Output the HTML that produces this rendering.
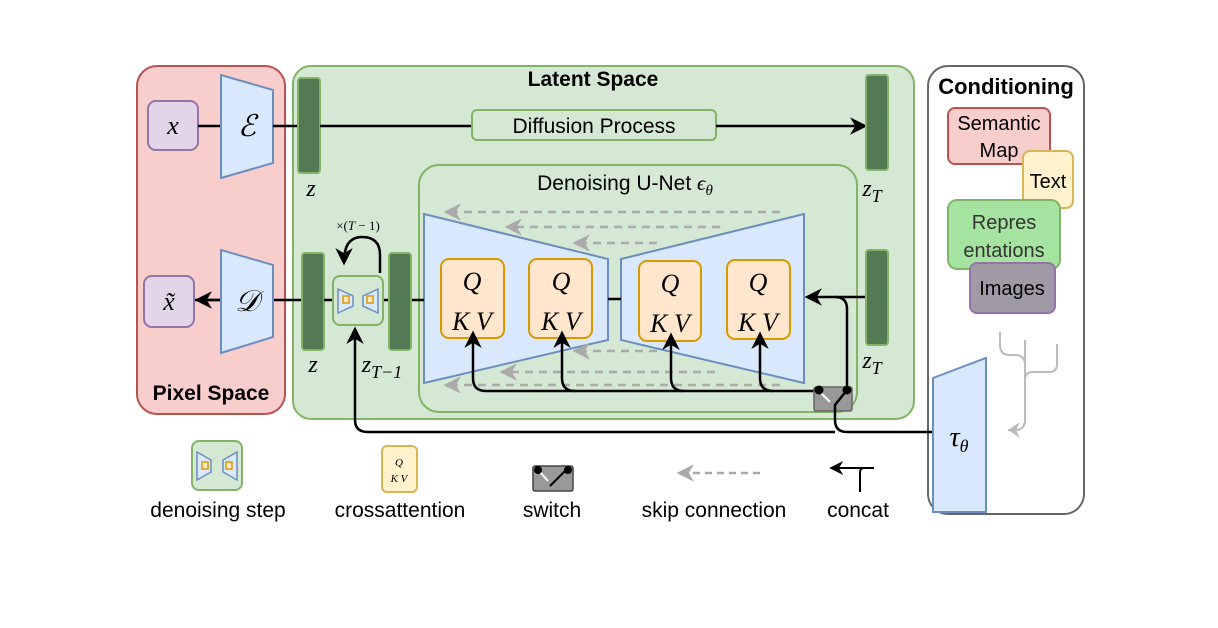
<!DOCTYPE html>
<html><head><meta charset="utf-8"><style>
html,body{margin:0;padding:0;background:#fff;}
svg{display:block;}
text{font-family:"Liberation Sans",sans-serif;}
text.m{font-family:"Liberation Serif",serif;font-style:italic;}
</style></head><body>
<svg width="1218" height="628" viewBox="0 0 1218 628" xmlns="http://www.w3.org/2000/svg">
<defs>
<marker id="ah" viewBox="0 0 10 10" refX="8" refY="5" markerWidth="7" markerHeight="7" orient="auto-start-reverse"><path d="M0,0 L10,5 L0,10 L3,5 z" fill="#000"/></marker>
<marker id="ag" viewBox="0 0 10 10" refX="8" refY="5" markerWidth="7" markerHeight="7" orient="auto"><path d="M0,0 L10,5 L0,10 L3,5 z" fill="#aaa"/></marker>
</defs>
<rect x="137" y="66" width="148" height="348" rx="20" fill="#f8cecc" stroke="#b85450" stroke-width="2"/>
<text x="211" y="400" font-size="21" font-weight="bold" text-anchor="middle">Pixel Space</text>
<rect x="293" y="66" width="621" height="353" rx="18" fill="#d5e8d4" stroke="#82b366" stroke-width="2"/>
<text x="593" y="86" font-size="21" font-weight="bold" text-anchor="middle">Latent Space</text>
<rect x="928" y="66" width="156" height="448" rx="20" fill="#fff" stroke="#666" stroke-width="2"/>
<text x="1006" y="94" font-size="22" font-weight="bold" text-anchor="middle">Conditioning</text>

<rect x="148" y="101" width="50" height="49" rx="8" fill="#e1d5e7" stroke="#9673a6" stroke-width="2"/>
<text x="173" y="134" class="m" font-size="26" text-anchor="middle">x</text>
<line x1="198" y1="126" x2="221" y2="126" stroke="#000" stroke-width="2.5"/>
<polygon points="221,75 273,90 273,163 221,178" fill="#dae8fc" stroke="#6c8ebf" stroke-width="2"/>
<text x="247" y="136" class="m" font-size="30" text-anchor="middle">ℰ</text>
<line x1="273" y1="126" x2="298" y2="126" stroke="#000" stroke-width="2.5"/>
<rect x="298" y="78" width="22" height="95" rx="3" fill="#537a53" stroke="#82b366" stroke-width="2"/>
<text x="311" y="196" class="m" font-size="24" text-anchor="middle">z</text>
<line x1="320" y1="126" x2="472" y2="126" stroke="#000" stroke-width="2.5"/>
<rect x="472" y="110" width="244" height="30" rx="5" fill="#d5e8d4" stroke="#82b366" stroke-width="2"/>
<text x="594" y="133" font-size="21" text-anchor="middle">Diffusion Process</text>
<line x1="716" y1="126" x2="864" y2="126" stroke="#000" stroke-width="2.5" marker-end="url(#ah)"/>
<rect x="866" y="75" width="22" height="95" rx="3" fill="#537a53" stroke="#82b366" stroke-width="2"/>
<text x="872" y="196" class="m" font-size="24" text-anchor="middle">z<tspan font-size="18" dy="6">T</tspan></text>

<rect x="419" y="165" width="438" height="247" rx="20" fill="#d5e8d4" stroke="#82b366" stroke-width="2"/>
<text x="625" y="190" font-size="21" text-anchor="middle">Denoising U-Net <tspan font-family="Liberation Serif,serif" font-style="italic">ϵ</tspan><tspan font-family="Liberation Serif,serif" font-style="italic" font-size="15" dy="5">θ</tspan></text>
<g stroke="#aaa" stroke-width="2.5" stroke-dasharray="8,6" fill="none">
<line x1="780" y1="212" x2="447" y2="212" marker-end="url(#ag)"/>
<line x1="720" y1="227" x2="508" y2="227" marker-end="url(#ag)"/>
<line x1="657" y1="243" x2="576" y2="243" marker-end="url(#ag)"/>
</g>
<polygon points="424,214 608,259 608,340 424,383" fill="#dae8fc" stroke="#6c8ebf" stroke-width="2"/>
<polygon points="621,259 804,214 804,383 621,340" fill="#dae8fc" stroke="#6c8ebf" stroke-width="2"/>
<g stroke="#aaa" stroke-width="2.5" stroke-dasharray="8,6" fill="none">
<line x1="657" y1="351" x2="576" y2="351" marker-end="url(#ag)"/>
<line x1="715" y1="372" x2="503" y2="372" marker-end="url(#ag)"/>
<line x1="780" y1="385" x2="447" y2="385" marker-end="url(#ag)"/>
</g>
<line x1="608" y1="299" x2="621" y2="299" stroke="#000" stroke-width="2.5"/>
<g fill="#ffe6cc" stroke="#d79b00" stroke-width="2">
<rect x="441" y="259" width="63" height="79" rx="8"/>
<rect x="529" y="259" width="63" height="79" rx="8"/>
<rect x="639" y="261" width="62" height="80" rx="8"/>
<rect x="727" y="260" width="63" height="79" rx="8"/>
</g>
<text x="472" y="290" class="m" font-size="26" text-anchor="middle">Q</text><text x="472" y="330" class="m" font-size="26" text-anchor="middle">K V</text>
<text x="561" y="290" class="m" font-size="26" text-anchor="middle">Q</text><text x="561" y="330" class="m" font-size="26" text-anchor="middle">K V</text>
<text x="670" y="292" class="m" font-size="26" text-anchor="middle">Q</text><text x="670" y="332" class="m" font-size="26" text-anchor="middle">K V</text>
<text x="758" y="291" class="m" font-size="26" text-anchor="middle">Q</text><text x="758" y="331" class="m" font-size="26" text-anchor="middle">K V</text>
<g stroke="#000" stroke-width="2.5" fill="none">
<path d="M818,391 L486,391 Q473,391 473,378 L473,334" marker-end="url(#ah)"/>
<path d="M575,391 Q562,391 562,378 L562,334" marker-end="url(#ah)"/>
<path d="M684,391 Q671,391 671,378 L671,336" marker-end="url(#ah)"/>
<path d="M773,391 Q760,391 760,378 L760,335" marker-end="url(#ah)"/>
<path d="M847,389 L847,309 Q847,297 835,297 L808,297" marker-end="url(#ah)"/>
<line x1="866" y1="297" x2="835" y2="297"/>
</g>
<rect x="814" y="387" width="38" height="24" rx="2" fill="#999" stroke="#666" stroke-width="1.5"/>
<line x1="820" y1="392" x2="830" y2="402" stroke="#fff" stroke-width="2"/>
<circle cx="819" cy="390" r="4.5" fill="#000"/><circle cx="847" cy="390" r="4.5" fill="#000"/>
<path d="M847,390 L835,405 L835,420 Q835,432 847,432 L933,432" stroke="#000" stroke-width="2.5" fill="none"/>
<path d="M835,432 L368,432 Q355,432 355,420 L355,330" stroke="#000" stroke-width="2.5" fill="none" marker-end="url(#ah)"/>
<rect x="866" y="250" width="22" height="95" rx="3" fill="#537a53" stroke="#82b366" stroke-width="2"/>
<text x="872" y="368" class="m" font-size="24" text-anchor="middle">z<tspan font-size="18" dy="6">T</tspan></text>

<line x1="194" y1="300" x2="302" y2="300" stroke="#000" stroke-width="2.5"/>
<line x1="220" y1="300" x2="198" y2="300" stroke="#000" stroke-width="2.5" marker-end="url(#ah)"/>
<rect x="144" y="276" width="50" height="51" rx="8" fill="#e1d5e7" stroke="#9673a6" stroke-width="2"/>
<text x="169" y="310" class="m" font-size="26" text-anchor="middle">x̃</text>
<polygon points="221,250 273,265 273,337 221,353" fill="#dae8fc" stroke="#6c8ebf" stroke-width="2"/>
<text x="247" y="311" class="m" font-size="30" text-anchor="middle">𝒟</text>
<rect x="302" y="253" width="22" height="97" rx="3" fill="#537a53" stroke="#82b366" stroke-width="2"/>
<text x="313" y="372" class="m" font-size="24" text-anchor="middle">z</text>
<line x1="324" y1="300" x2="389" y2="300" stroke="#000" stroke-width="2.5"/>
<line x1="411" y1="300" x2="424" y2="300" stroke="#000" stroke-width="2.5"/>
<rect x="389" y="253" width="22" height="97" rx="3" fill="#537a53" stroke="#82b366" stroke-width="2"/>
<text x="382" y="372" class="m" font-size="24" text-anchor="middle">z<tspan font-size="18" dy="6">T−1</tspan></text>
<rect x="333" y="276" width="50" height="49" rx="7" fill="#d5e8d4" stroke="#82b366" stroke-width="2"/>
<polygon points="338,289 353,296 353,306 338,313" fill="#dae8fc" stroke="#6c8ebf" stroke-width="1.5"/>
<polygon points="378,289 363,296 363,306 378,313" fill="#dae8fc" stroke="#6c8ebf" stroke-width="1.5"/>
<rect x="343" y="296" width="6" height="7" fill="#ffe6cc" stroke="#d79b00" stroke-width="1.5"/>
<rect x="367" y="296" width="6" height="7" fill="#ffe6cc" stroke="#d79b00" stroke-width="1.5"/>
<path d="M380,273 L380,255 Q380,237 362,237 Q344,237 344,262" stroke="#000" stroke-width="2.5" fill="none" marker-end="url(#ah)"/>
<text x="358" y="230" font-size="13" text-anchor="middle" style="font-family:'Liberation Serif',serif">×(<tspan font-style="italic">T</tspan> − 1)</text>

<rect x="948" y="108" width="102" height="56" rx="7" fill="#f8cecc" stroke="#b85450" stroke-width="2"/>
<text x="999" y="130" font-size="20" text-anchor="middle">Semantic</text>
<text x="999" y="157" font-size="20" text-anchor="middle">Map</text>
<rect x="1023" y="151" width="50" height="57" rx="7" fill="#fff2cc" stroke="#d6b656" stroke-width="2"/>
<text x="1048" y="188" font-size="20" text-anchor="middle">Text</text>
<rect x="948" y="200" width="112" height="69" rx="9" fill="#a5e3a0" stroke="#82b366" stroke-width="2"/>
<text x="1004" y="229" font-size="20" text-anchor="middle" fill="#333">Repres</text>
<text x="1004" y="257" font-size="20" text-anchor="middle" fill="#333">entations</text>
<rect x="970" y="263" width="85" height="50" rx="7" fill="#a09aa6" stroke="#9673a6" stroke-width="2"/>
<text x="1012" y="295" font-size="20" text-anchor="middle">Images</text>
<g stroke="#bbb" stroke-width="2" fill="none">
<path d="M1000,332 L1000,345 Q1000,355 1010,355 L1015,355 Q1025,355 1025,365"/>
<path d="M1025,340 L1025,420 Q1025,430 1015,430 L1008,430"/>
<path d="M1057,344 L1057,364 Q1057,372 1049,372 L1033,372 Q1025,372 1025,380"/>
</g>
<path d="M1008,430 L1020,422 L1016,430 L1020,438 z" fill="#bbb"/>
<polygon points="933,378 986,358 986,512 933,512" fill="#dae8fc" stroke="#6c8ebf" stroke-width="2"/>
<text x="959" y="446" class="m" font-size="28" text-anchor="middle">τ<tspan font-size="18" dy="6">θ</tspan></text>

<!-- legend -->
<rect x="192" y="441" width="50" height="49" rx="7" fill="#d5e8d4" stroke="#82b366" stroke-width="2"/>
<polygon points="197,452 211,460 211,472 197,480" fill="#dae8fc" stroke="#6c8ebf" stroke-width="1.5"/>
<polygon points="237,452 223,460 223,472 237,480" fill="#dae8fc" stroke="#6c8ebf" stroke-width="1.5"/>
<rect x="202" y="462" width="6" height="7" fill="#ffe6cc" stroke="#d79b00" stroke-width="1.5"/>
<rect x="226" y="462" width="6" height="7" fill="#ffe6cc" stroke="#d79b00" stroke-width="1.5"/>
<text x="218" y="517" font-size="21" text-anchor="middle">denoising step</text>
<rect x="382" y="446" width="35" height="46" rx="5" fill="#fff2cc" stroke="#d6b656" stroke-width="2"/>
<text x="399" y="466" class="m" font-size="11" text-anchor="middle">Q</text>
<text x="399" y="482" class="m" font-size="11" text-anchor="middle">K V</text>
<text x="400" y="517" font-size="21" text-anchor="middle">crossattention</text>
<rect x="533" y="466" width="40" height="25" rx="2" fill="#999" stroke="#444" stroke-width="1.5"/>
<line x1="539" y1="471" x2="548" y2="481" stroke="#fff" stroke-width="2"/>
<line x1="550" y1="486" x2="566" y2="470" stroke="#000" stroke-width="2"/>
<circle cx="538" cy="470" r="4" fill="#000"/><circle cx="568" cy="470" r="4" fill="#000"/>
<text x="552" y="517" font-size="21" text-anchor="middle">switch</text>
<line x1="760" y1="473" x2="680" y2="473" stroke="#aaa" stroke-width="2.5" stroke-dasharray="7,5" marker-end="url(#ag)"/>
<text x="714" y="517" font-size="21" text-anchor="middle">skip connection</text>
<path d="M874,468 L864,468 Q860,468 860,473 L860,492" stroke="#000" stroke-width="2" fill="none"/>
<line x1="864" y1="468" x2="832" y2="468" stroke="#000" stroke-width="2" marker-end="url(#ah)"/>
<text x="858" y="517" font-size="21" text-anchor="middle">concat</text>
</svg>
</body></html>
